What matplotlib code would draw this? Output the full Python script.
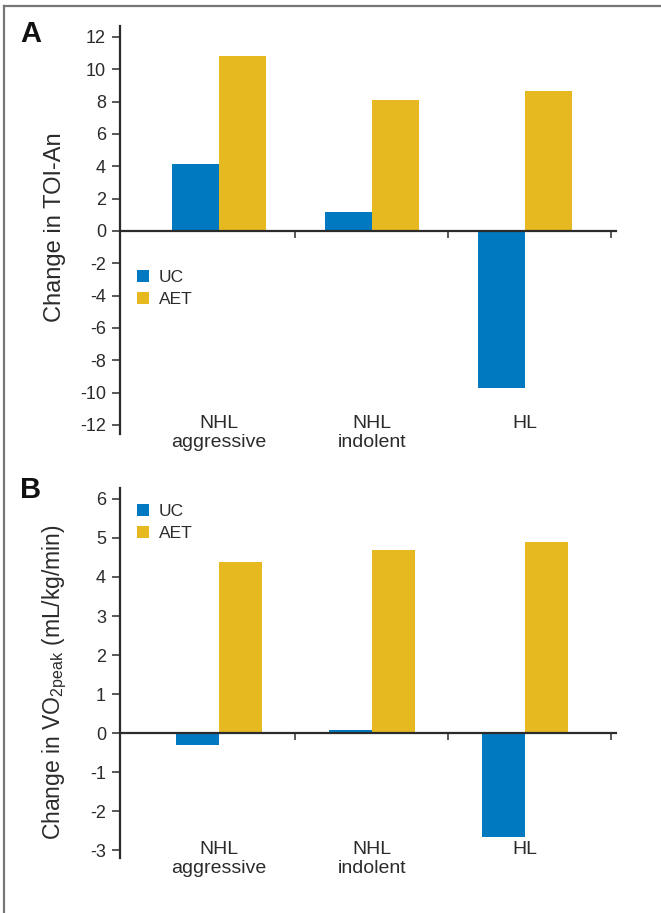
import matplotlib
matplotlib.use("Agg")
import matplotlib.pyplot as plt
from matplotlib.lines import Line2D

plt.rcParams['font.family'] = ['Liberation Sans', 'DejaVu Sans']
plt.rcParams['mathtext.fontset'] = 'custom'
plt.rcParams['mathtext.rm'] = 'Liberation Sans'

# data
groups = ['NHL\naggressive', 'NHL\nindolent', 'HL']
series = ['UC', 'AET']
toi_uc = [4.15, 1.18, -9.7]
toi_aet = [10.85, 8.12, 8.67]
vo2_uc = [-0.3, 0.07, -2.65]
vo2_aet = [4.38, 4.68, 4.89]
toi_ticks = [12, 10, 8, 6, 4, 2, 0, -2, -4, -6, -8, -10, -12]
vo2_ticks = [6, 5, 4, 3, 2, 1, 0, -1, -2, -3]

BLUE = '#0079C1'
GOLD = '#E7B921'
INK = '#2b2b2b'

W, H = 661, 913
fig = plt.figure(figsize=(W / 100, H / 100), dpi=100)


def px_box(left, top, right, bottom):
    return [left / W, 1 - bottom / H, (right - left) / W, (bottom - top) / H]


def draw_panel(ax, uc, aet, ticks, ylim, width, legend_y):
    x = range(len(groups))
    ax.bar([i - width / 2 for i in x], uc, width, color=BLUE, label=series[0])
    ax.bar([i + width / 2 for i in x], aet, width, color=GOLD, label=series[1])

    ax.set_xlim(-0.647, 2.595)
    ax.set_ylim(*ylim)
    for s in ['top', 'right']:
        ax.spines[s].set_visible(False)
    ax.spines['bottom'].set_position(('data', 0))
    for s in ['left', 'bottom']:
        ax.spines[s].set_linewidth(1.6)
        ax.spines[s].set_color(INK)

    ax.set_yticks(ticks)
    ax.set_yticklabels([str(t) for t in ticks])
    ax.tick_params(axis='y', direction='out', length=6, width=1.1,
                   colors=INK, labelsize=13, pad=4)
    ax.set_xticks([0.5, 1.5, 2.56])
    ax.set_xticklabels([])
    ax.tick_params(axis='x', direction='out', length=5, width=1.1, colors=INK)

    for i, g in enumerate(groups):
        ax.text(i, 0.047, g, transform=ax.get_xaxis_transform(), ha='center',
                va='top', fontsize=14, color=INK, linespacing=1.2)

    leg = ax.legend(loc='upper left', bbox_to_anchor=(0.02, legend_y),
                    frameon=False, fontsize=12.5, handlelength=0.7,
                    handleheight=0.7, handletextpad=0.55, labelspacing=0.4,
                    borderaxespad=0)
    for t in leg.get_texts():
        t.set_color(INK)


# Panel A
axA = fig.add_axes(px_box(120, 26, 616, 434))
draw_panel(axA, toi_uc, toi_aet, toi_ticks, (-12.56, 12.68), 0.307, 0.42)
fig.text(55 / W, 1 - 227 / H, 'Change in TOI-An', rotation=90, ha='center',
         va='center', fontsize=17, color=INK)
fig.text(20 / W, 1 - 34 / H, 'A', fontsize=21, fontweight='bold',
         ha='left', va='center', color='#111111')

# Panel B
axB = fig.add_axes(px_box(120, 488, 616, 858))
draw_panel(axB, vo2_uc, vo2_aet, vo2_ticks, (-3.2, 6.28), 0.283, 0.975)
fig.text(55 / W, 1 - 682 / H,
         r'Change in VO$_{\mathregular{2peak}}$ (mL/kg/min)', rotation=90,
         ha='center', va='center', fontsize=16.5, color=INK)
fig.text(20 / W, 1 - 490 / H, 'B', fontsize=21, fontweight='bold',
         ha='left', va='center', color='#111111')

# grey frame on the left and top edges
fig.add_artist(Line2D([4 / W, 4 / W], [0, 1 - 6 / H], color='#777777',
                      linewidth=1.6, transform=fig.transFigure))
fig.add_artist(Line2D([4 / W, 1], [1 - 6 / H, 1 - 6 / H], color='#777777',
                      linewidth=1.6, transform=fig.transFigure))

fig.savefig('out.png', dpi=100)
